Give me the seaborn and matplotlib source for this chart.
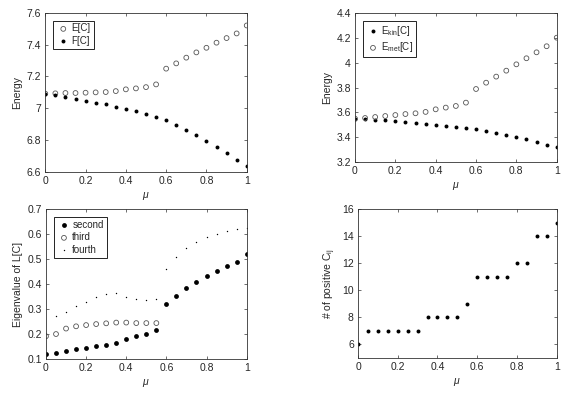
import numpy as np
import pandas as pd
import matplotlib
matplotlib.use('Agg')
import matplotlib.pyplot as plt
from matplotlib.ticker import FuncFormatter
import seaborn as sns

# Data
mu = [0.0, 0.05, 0.1, 0.15, 0.2, 0.25, 0.3, 0.35, 0.4, 0.45, 0.5,
      0.55, 0.6, 0.65, 0.7, 0.75, 0.8, 0.85, 0.9, 0.95, 1.0]

E_C = [7.092, 7.094, 7.096, 7.096, 7.098, 7.100, 7.102, 7.108, 7.119, 7.125, 7.133,
       7.150, 7.249, 7.282, 7.318, 7.351, 7.380, 7.412, 7.441, 7.470, 7.520]
F_C = [7.092, 7.083, 7.073, 7.060, 7.048, 7.035, 7.025, 7.010, 6.997, 6.981, 6.964,
       6.947, 6.924, 6.897, 6.866, 6.832, 6.797, 6.759, 6.719, 6.677, 6.638]

E_kin = [3.550, 3.544, 3.542, 3.536, 3.528, 3.523, 3.517, 3.509, 3.501, 3.491, 3.482,
         3.474, 3.464, 3.450, 3.437, 3.418, 3.402, 3.383, 3.361, 3.340, 3.321]
E_met = [3.550, 3.555, 3.563, 3.571, 3.579, 3.587, 3.593, 3.604, 3.625, 3.639, 3.652,
         3.679, 3.789, 3.840, 3.889, 3.937, 3.988, 4.037, 4.085, 4.134, 4.203]

second = [0.117, 0.124, 0.132, 0.139, 0.144, 0.150, 0.154, 0.163, 0.180, 0.191, 0.198,
          0.217, 0.318, 0.350, 0.383, 0.408, 0.431, 0.454, 0.471, 0.490, 0.521]
mu_third = [0.0, 0.05, 0.1, 0.15, 0.2, 0.25, 0.3, 0.35, 0.4, 0.45, 0.5, 0.55]
third = [0.190, 0.199, 0.221, 0.230, 0.235, 0.239, 0.242, 0.245, 0.245, 0.243, 0.243, 0.243]
mu_fourth = [0.05, 0.1, 0.15, 0.2, 0.25, 0.3, 0.35, 0.4, 0.45, 0.5,
             0.55, 0.6, 0.65, 0.7, 0.75, 0.8, 0.85, 0.9, 0.95, 1.0]
fourth = [0.271, 0.289, 0.312, 0.328, 0.346, 0.360, 0.365, 0.349, 0.340, 0.336,
          0.340, 0.461, 0.510, 0.546, 0.570, 0.587, 0.602, 0.613, 0.621, 0.625]

n_pos = [6, 7, 7, 7, 7, 7, 7, 8, 8, 8, 8,
         9, 11, 11, 11, 11, 12, 12, 14, 14, 15]

sns.set_style('ticks')
plt.rcParams['font.family'] = ['Liberation Sans', 'DejaVu Sans']
plt.rcParams['font.size'] = 7
plt.rcParams['mathtext.fontset'] = 'custom'
plt.rcParams['mathtext.rm'] = 'Liberation Sans'
plt.rcParams['mathtext.it'] = 'Liberation Sans:italic'

txt = '#262626'
edge = '#333333'
gray = '#555555'

fig = plt.figure(figsize=(5.69, 3.93), dpi=100)
ax1 = fig.add_axes([0.0796, 0.5623, 0.354, 0.4053])
ax2 = fig.add_axes([0.6239, 0.5878, 0.3545, 0.3784])
ax3 = fig.add_axes([0.0808, 0.0873, 0.3527, 0.3802])
ax4 = fig.add_axes([0.6292, 0.0891, 0.3492, 0.3784])

fmt = FuncFormatter(lambda v, p: ('%g' % round(v, 6)))


def style(ax, ylim, yticks, ylabel):
    ax.set_xlim(0, 1)
    ax.set_ylim(*ylim)
    ax.set_xticks([0, 0.2, 0.4, 0.6, 0.8, 1])
    ax.set_yticks(yticks)
    ax.xaxis.set_major_formatter(fmt)
    ax.yaxis.set_major_formatter(fmt)
    ax.tick_params(direction='in', top=True, right=True, length=2.5,
                   width=0.5, colors=edge, labelcolor=txt, labelsize=7.5, pad=3)
    for s in ax.spines.values():
        s.set_visible(True)
        s.set_linewidth(0.6)
        s.set_edgecolor(edge)
    ax.set_xlabel(r'$\mu$', color=txt, fontsize=7.5, labelpad=3)
    ax.set_ylabel(ylabel, color=txt, fontsize=7.5, labelpad=3)


def legend(ax):
    lg = ax.legend(loc='upper left', fontsize=7, frameon=True, fancybox=False,
                   edgecolor='black', framealpha=1, borderaxespad=0.8,
                   handletextpad=0.1, handlelength=1.5, borderpad=0.3,
                   labelspacing=0.25)
    lg.get_frame().set_linewidth(0.6)


open_kw = dict(marker='o', s=12, facecolor='none', edgecolor=gray, linewidth=0.6)
fill_kw = dict(marker='o', s=8, color='black', linewidth=0)

# Panel 1
sns.scatterplot(x=mu, y=E_C, ax=ax1, label='E[C]', **open_kw)
sns.scatterplot(x=mu, y=F_C, ax=ax1, label='F[C]', **fill_kw)
style(ax1, (6.6, 7.6), [6.6, 6.8, 7.0, 7.2, 7.4, 7.6], 'Energy')
legend(ax1)

# Panel 2
sns.scatterplot(x=mu, y=E_kin, ax=ax2, label=r'E$_{\rm kin}$[C]', **fill_kw)
sns.scatterplot(x=mu, y=E_met, ax=ax2, label=r'E$_{\rm met}$[C]', **open_kw)
style(ax2, (3.2, 4.4), [3.2, 3.4, 3.6, 3.8, 4.0, 4.2, 4.4], 'Energy')
legend(ax2)

# Panel 3
sns.scatterplot(x=mu, y=second, ax=ax3, label='second', marker='o', s=12,
                color='black', linewidth=0)
sns.scatterplot(x=mu_third, y=third, ax=ax3, label='third', **open_kw)
sns.scatterplot(x=mu_fourth, y=fourth, ax=ax3, label='fourth', marker='o', s=1,
                color='black', linewidth=0)
style(ax3, (0.1, 0.7), [0.1, 0.2, 0.3, 0.4, 0.5, 0.6, 0.7], 'Eigenvalue of L[C]')
legend(ax3)

# Panel 4
sns.scatterplot(x=mu, y=n_pos, ax=ax4, **fill_kw)
style(ax4, (5, 16), [6, 8, 10, 12, 14, 16], r'# of positive C$_{\rm ij}$')

fig.savefig('out.png', dpi=100)
